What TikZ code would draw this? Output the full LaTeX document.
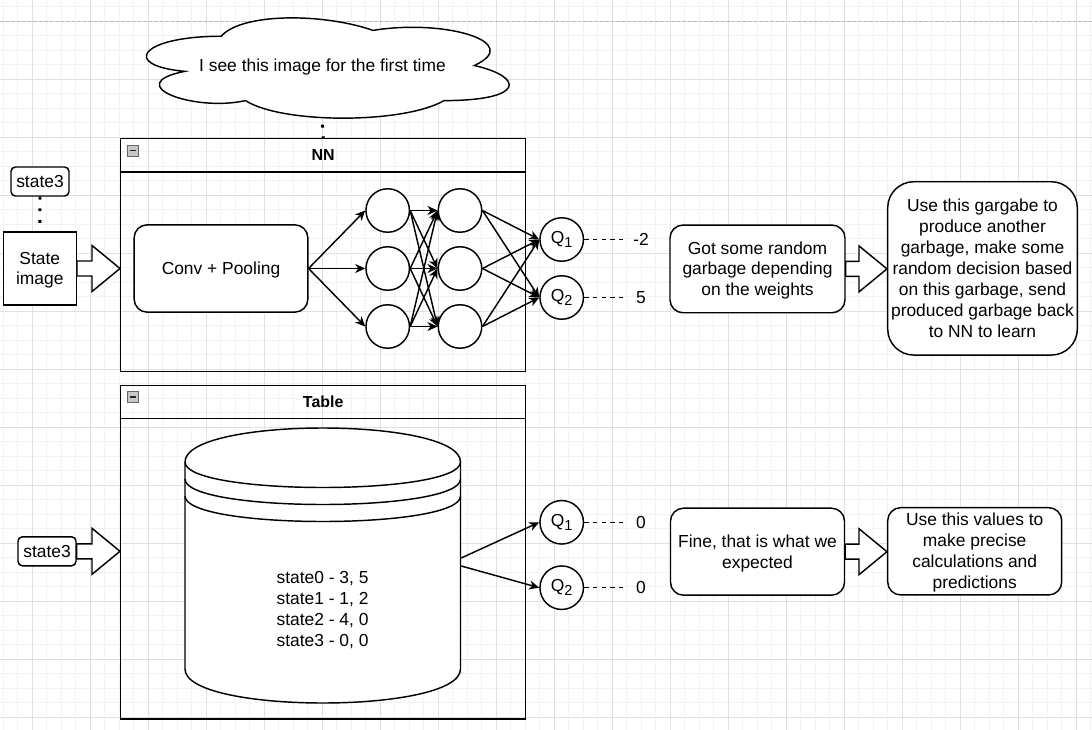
\documentclass[tikz,border=0pt]{standalone}
\usepackage{fontspec}
\setmainfont{Liberation Sans}
\usetikzlibrary{arrows.meta,calc}
\newcommand\dfont{\fontsize{17.4pt}{20.9pt}\selectfont}
\newcommand\tfont{\fontsize{15.95pt}{19pt}\selectfont\bfseries}
\newcommand\dstrut{\rule[-4.45pt]{0pt}{20.9pt}}
\newcommand\qsub[1]{Q\raisebox{-4pt}{\fontsize{14.5pt}{14.5pt}\selectfont #1}}
\newcommand\fatarrow[2]{\draw[fat] let \p1=(#1), \p2=(#2) in (\x1,\y1+7.5pt) -- (\x2-28pt,\y1+7.5pt) -- (\x2-28pt,\y1+23pt) -- (\x2,\y1) -- (\x2-28pt,\y1-23pt) -- (\x2-28pt,\y1-7.5pt) -- (\x1,\y1-7.5pt) -- cycle;}
\begin{document}
\begin{tikzpicture}[x=1pt,y=-1pt, line width=1.45pt,
 txt/.style={font=\dfont, align=center, execute at begin node=\dstrut, execute at end node=\dstrut},
 box/.style={draw, fill=white, txt, inner sep=0pt},
 rbox/.style={box, rounded corners=13pt},
 neuron/.style={draw, fill=white, circle, minimum size=43.5pt, inner sep=0pt, font=\dfont},
 arr/.style={-{Stealth[length=10pt,width=9pt,inset=3pt]}},
 dotc/.style={line width=2.9pt, dash pattern=on 2.9pt off 8.7pt},
 dashc/.style={dash pattern=on 4.35pt off 4.35pt},
 val/.style={txt, minimum width=26pt, inner sep=0pt},
 fat/.style={draw, fill=white, line join=miter},
 lane/.style={draw, minimum width=405pt, inner sep=0pt, anchor=north west},
 ttl/.style={font=\tfont},
 icon/.style={draw=black!60, fill=black!22, line width=0.8pt},
]
\useasboundingbox (0,0) rectangle (1092,730);
\fill[white] (0,0) rectangle (1092,730);
% grid
\begin{scope}[line width=1pt]
\foreach \i in {0,...,75} \draw[black!5] (3.3+14.5*\i,0) -- (3.3+14.5*\i,730);
\foreach \j in {0,...,49} \draw[black!5] (0,6.8+14.5*\j) -- (1092,6.8+14.5*\j);
\foreach \i in {0,...,18} \draw[black!12] (32.3+58*\i,0) -- (32.3+58*\i,730);
\foreach \j in {0,...,12} \draw[black!12] (0,21.3+58*\j) -- (1092,21.3+58*\j);
\draw[black!28, dash pattern=on 3.5pt off 2pt] (0,21.8) -- (1092,21.8);
\end{scope}

% cloud
\begin{scope}[shift={(120,7)}, x=405pt, y=-117pt]
\draw[fill=white] (0.25,0.25) .. controls (0.05,0.25) and (0,0.5) .. (0.16,0.55)
 .. controls (0,0.66) and (0.18,0.9) .. (0.31,0.8)
 .. controls (0.4,1) and (0.7,1) .. (0.8,0.8)
 .. controls (1,0.8) and (1,0.6) .. (0.875,0.5)
 .. controls (1,0.3) and (0.8,0.1) .. (0.625,0.2)
 .. controls (0.5,0.05) and (0.3,0.05) .. (0.25,0.25) -- cycle;
\end{scope}
\node[txt, minimum width=405pt, minimum height=117pt, inner sep=0pt] (cloud) at (322.5,65.5) {I see this image for the first time};

% NN lane
\node[lane, minimum height=233pt] (nn) at (120,138) {};
\draw ([yshift=-34pt]nn.north west) -- ([yshift=-34pt]nn.north east);
\node[ttl] (nnt) at ($(nn.north)+(0,17)$) {NN};
\draw[icon] ($(nn.north west)+(7,7)$) rectangle +(11,11);
\draw[line width=1.6pt, black!85] ($(nn.north west)+(9.5,12.5)$) -- +(6,0);
\draw[dotc] (cloud.south) -- (nn.north);

% left inputs
\node[box, rounded corners=4.4pt, minimum width=58pt, minimum height=29pt] (s3a) at (40,181.5) {state3};
\node[box, minimum width=73pt, minimum height=73pt] (si) at (39.75,268.5) {\dstrut State\\image\dstrut};
\draw[dotc] (s3a.south) -- (si.north);
\fatarrow{si.east}{nn.west}

% conv + net
\node[rbox, minimum width=173.7pt, minimum height=87.3pt] (conv) at (221,268.5) {Conv + Pooling};
\foreach \k/\y in {1/210.5,2/268.5,3/326.5} {
  \node[neuron] (n1\k) at (387.7,\y) {};
  \node[neuron] (n2\k) at (460,\y) {};
}
\node[neuron] (q1) at (561.7,239.5) {\qsub{1}};
\node[neuron] (q2) at (561.7,297.5) {\qsub{2}};
\foreach \i in {1,2,3} {\draw[arr] (conv.east) -- (n1\i.west);}
\foreach \i in {1,2,3} {\foreach \j in {1,2,3} {\draw[arr] (n1\i.east) -- (n2\j.west);}}
\foreach \i in {1,2,3} {\foreach \j in {1,2} {\draw[arr] (n2\i.east) -- (q\j.west);}}
\node[val] (v1) at (641,239.5) {-2};
\node[val] (v2) at (641,297.5) {5};
\draw[dashc] (q1.east) -- (v1.west);
\draw[dashc] (q2.east) -- (v2.west);

% right boxes top
\node[rbox, minimum width=175pt, minimum height=87.7pt] (g1) at (757.5,268.9) {\dstrut Got some random\\garbage depending\\on the weights\dstrut};
\node[box, rounded corners=26pt, minimum width=189.6pt, minimum height=173.3pt] (g2) at (982.5,268.4) {\dstrut Use this gargabe to\\produce another\\garbage, make some\\random decision based\\on this garbage, send\\produced garbage back\\to NN to learn\dstrut};
\fatarrow{g1.east}{g2.west}

% Table lane
\node[lane, minimum height=333.8pt] (tb) at (120,384.5) {};
\draw ([yshift=-34pt]tb.north west) -- ([yshift=-34pt]tb.north east);
\node[ttl] (tbt) at ($(tb.north)+(0,17)$) {Table};
\draw[icon] ($(tb.north west)+(7,7)$) rectangle +(11,11);
\draw[line width=1.6pt, black!85] ($(tb.north west)+(9.5,12.5)$) -- +(6,0);

% datastore
\node[minimum width=275.5pt, minimum height=275pt, inner sep=0pt] (db) at (322.75,565.5) {};
\begin{scope}[shift={(185,428)}]
\draw[fill=white] (0,34) .. controls (0,-11.33) and (275.5,-11.33) .. (275.5,34) -- (275.5,241)
  .. controls (275.5,286.33) and (0,286.33) .. (0,241) -- cycle;
\foreach \d in {0,17,34} {\draw (0,34+\d) .. controls (0,68+\d) and (275.5,68+\d) .. (275.5,34+\d);}
\end{scope}
\node[txt, inner sep=0pt] (dbt) at (322.5,609) {\dstrut state0 - 3, 5\\state1 - 1, 2\\state2 - 4, 0\\state3 - 0, 0\dstrut};

\node[box, rounded corners=4.4pt, minimum width=58pt, minimum height=29pt] (s3b) at (47,551.3) {state3};
\fatarrow{s3b.east}{tb.west}

\node[neuron] (qb1) at (561.7,522.3) {\qsub{1}};
\node[neuron] (qb2) at (561.7,587.7) {\qsub{2}};
\draw[arr] ([yshift=7.5pt]db.east) -- (qb1.west);
\draw[arr] ([yshift=-0.5pt]db.east) -- (qb2.west);
\node[val] (vb1) at (641,522.3) {0};
\node[val] (vb2) at (641,587.7) {0};
\draw[dashc] (qb1.east) -- (vb1.west);
\draw[dashc] (qb2.east) -- (vb2.west);

\node[rbox, minimum width=174pt, minimum height=87pt] (f1) at (757.5,551.7) {\dstrut Fine, that is what we\\expected\dstrut};
\node[rbox, minimum width=174pt, minimum height=87.3pt] (f2) at (974.7,551.3) {\dstrut Use this values to\\make precise\\calculations and\\predictions\dstrut};
\fatarrow{f1.east}{f2.west}
\end{tikzpicture}
\end{document}
